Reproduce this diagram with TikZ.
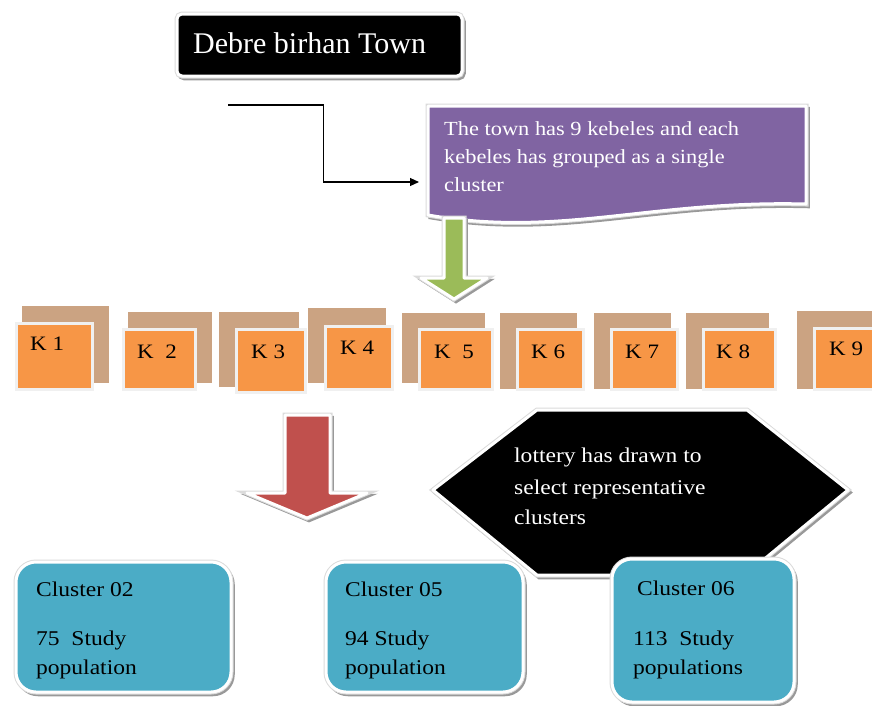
\documentclass[tikz,border=0pt]{standalone}
\usepackage{fontspec}
\setmainfont{Liberation Serif}
\newfontfamily\camb[FakeStretch=1.12]{Liberation Serif}
\usetikzlibrary{arrows.meta,calc}
\definecolor{purp}{HTML}{8064A2}
\definecolor{grn}{HTML}{9BBB59}
\definecolor{orng}{HTML}{F79646}
\definecolor{tanc}{RGB}{203,163,130}
\definecolor{redc}{HTML}{C0504D}
\definecolor{teal}{HTML}{4BACC6}
\tikzset{
  wb/.style={draw=white, line width=3pt, line join=round,
    preaction={draw=black!40, line width=3.5pt, transform canvas={xshift=2pt,yshift=-2.5pt}},
    preaction={draw=black!14, line width=5pt}},
  kfront/.style={fill=orng, draw=black!6, line width=3pt},
  kback/.style={fill=tanc, draw=none},
  klabel/.style={anchor=base west, inner sep=0pt, font=\camb\fontsize{20.5}{24}\selectfont},
  wtxt/.style={anchor=base west, inner sep=0pt, text=white, font=\camb\fontsize{20}{24}\selectfont},
  btxt/.style={anchor=base west, inner sep=0pt, text=black, font=\camb\fontsize{21}{24}\selectfont},
  conn/.style={line width=1.1pt, -{Triangle[length=9pt,width=8pt]}},
}
\begin{document}
\begin{tikzpicture}[x=1pt,y=-1pt]
\useasboundingbox (0,0) rectangle (872,705);
% title
\draw[wb, fill=black, rounded corners=5pt] (177,14) rectangle (462,76);
\node[anchor=base west, inner sep=0pt, text=white, font=\fontsize{30}{34}\selectfont] (title) at (193,53) {Debre birhan Town};
% connector
\coordinate (cstart) at (228,105);
\coordinate (cend) at (419,182);
\draw[conn] (cstart) -| ($(cstart)!.5!(cend)$) |- (cend);
% purple wave box
\draw[wb, fill=purp] (428,106) -- (806,106) -- (806,204) .. controls (650,200) and (560,238) .. (428,215) -- cycle;
\node[wtxt] (p1) at (444,135) {The town has 9 kebeles and each};
\node[wtxt] (p2) at (444,163) {kebeles has grouped as a single};
\node[wtxt] (p3) at (444,191) {cluster};
% green arrow
\draw[wb, fill=grn] (444,218) -- (464,218) -- (464,278) -- (487,278) -- (454,299) -- (421,278) -- (444,278) -- cycle;
% K boxes
\fill[kback] (22,306) rectangle (109,383);
\draw[kfront] (16,323) rectangle (92,389);
\node[klabel] (k1) at (30,350) {K 1};
\fill[kback] (128,312) rectangle (212,383);
\draw[kfront] (123,329) rectangle (195,389);
\node[klabel] (k2) at (137,358) {K\ \ 2};
\fill[kback] (219,312) rectangle (299,387);
\draw[kfront] (236,329) rectangle (305,392);
\node[klabel] (k3) at (251,358) {K 3};
\fill[kback] (308,308) rectangle (386,383);
\draw[kfront] (325,326) rectangle (392,389);
\node[klabel] (k4) at (340,354) {K 4};
\fill[kback] (402,313) rectangle (485,383);
\draw[kfront] (419,329) rectangle (492,389);
\node[klabel] (k5) at (434,358) {K\ \ 5};
\fill[kback] (500,313) rectangle (577,389);
\draw[kfront] (517,329) rectangle (583,389);
\node[klabel] (k6) at (531,358) {K 6};
\fill[kback] (594,313) rectangle (671,389);
\draw[kfront] (611,329) rectangle (677,389);
\node[klabel] (k7) at (625,358) {K 7};
\fill[kback] (686,313) rectangle (769,389);
\draw[kfront] (703,329) rectangle (775,389);
\node[klabel] (k8) at (716,358) {K 8};
\fill[kback] (797,311) rectangle (880,389);
\draw[kfront] (814,328) rectangle (880,389);
\node[klabel] (k9) at (829,355) {K 9};
% red arrow
\draw[wb, fill=redc] (285,415) -- (330,415) -- (330,493) -- (367,493) -- (307,518) -- (247,493) -- (285,493) -- cycle;
% hexagon
\draw[wb, fill=black] (433,490) -- (537,410) -- (747,410) -- (848,490) -- (745,575) -- (537,575) -- cycle;
\node[wtxt, font=\camb\fontsize{21}{24}\selectfont] (h1) at (514,462) {lottery has drawn to};
\node[wtxt, font=\camb\fontsize{21}{24}\selectfont] (h2) at (514,494) {select representative};
\node[wtxt, font=\camb\fontsize{21}{24}\selectfont] (h3) at (514,524) {clusters};
% clusters
\draw[wb, fill=teal, rounded corners=20pt] (16,562) rectangle (231,692);
\node[btxt] (c2a) at (36,596) {Cluster 02};
\node[btxt] (c2b) at (36,645) {75\ \ Study};
\node[btxt] (c2c) at (36,674) {population};
\draw[wb, fill=teal, rounded corners=20pt] (326,562) rectangle (523,692);
\node[btxt] (c5a) at (345,596) {Cluster 05};
\node[btxt] (c5b) at (345,645) {94 Study};
\node[btxt] (c5c) at (345,674) {population};
\draw[wb, fill=teal, rounded corners=20pt] (612,559) rectangle (794,702);
\node[btxt] (c6a) at (637,595) {Cluster 06};
\node[btxt] (c6b) at (633,645) {113\ \ Study};
\node[btxt] (c6c) at (633,674) {populations};
\end{tikzpicture}
\end{document}
